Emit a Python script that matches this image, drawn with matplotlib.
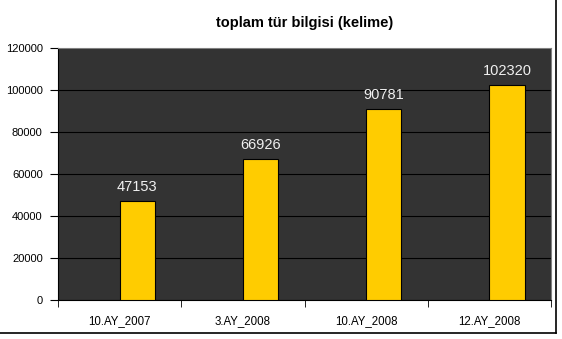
import numpy as np
import matplotlib.pyplot as plt
from matplotlib.lines import Line2D

plt.rcParams['font.family'] = ['Liberation Sans', 'DejaVu Sans']

categories = ['10.AY_2007', '3.AY_2008', '10.AY_2008', '12.AY_2008']
values = [47153, 66926, 90781, 102320]

fig = plt.figure(figsize=(5.62, 3.39), dpi=100)
ax = fig.add_axes([58 / 562, 1 - 300 / 339, 493 / 562, 252 / 339])
ax.set_facecolor('#333333')

x = np.arange(len(categories))
ax.bar(x, values, width=0.285, align='edge', color='#FFCC00',
       edgecolor='black', linewidth=0.8, zorder=3)
for xi, v in zip(x, values):
    ax.text(xi + 0.1425, v + 3500, str(v), ha='center', va='bottom',
            color='#f0f0f0', fontsize=10.5, zorder=4)

ax.set_xlim(-0.5, 3.5)
ax.set_ylim(0, 120000)
ax.set_yticks(np.arange(0, 120001, 20000))
ax.tick_params(axis='y', labelsize=8, length=6, direction='out', pad=5)
ax.yaxis.grid(True, color='black', linewidth=0.8, zorder=1)
ax.set_xticks(x)
ax.set_xticklabels(categories)
ax.tick_params(axis='x', which='major', length=0, labelsize=8.3, pad=11)
ax.set_xticks(np.arange(-0.5, 3.6, 1), minor=True)
ax.tick_params(axis='x', which='minor', length=5, direction='out')

for s in ['top', 'right']:
    ax.spines[s].set_color('#808080')
for s in ['left', 'bottom']:
    ax.spines[s].set_color('black')

fig.text(0.5 * (58 + 551) / 562, 1 - 23 / 339, 'toplam tür bilgisi (kelime)',
         ha='center', va='center', fontsize=10.5, fontweight='bold')

# chart frame lines (right and bottom)
fig.add_artist(Line2D([556 / 562, 556 / 562], [1 - 333 / 339, 1], color='black', linewidth=1.2))
fig.add_artist(Line2D([0, 556 / 562], [1 - 333 / 339, 1 - 333 / 339], color='black', linewidth=1.2))

fig.savefig('out.png', dpi=100)
